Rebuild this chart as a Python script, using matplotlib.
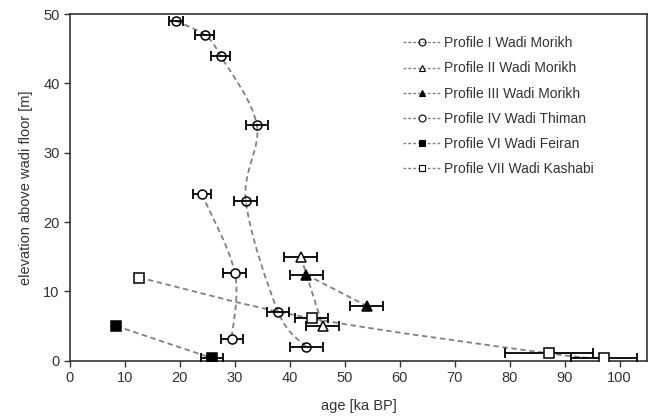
import matplotlib
matplotlib.use("Agg")
import matplotlib.pyplot as plt
from matplotlib.path import Path
from matplotlib.patches import PathPatch
from matplotlib.lines import Line2D
import numpy as np

plt.rcParams["font.family"] = ["Liberation Sans", "DejaVu Sans"]
plt.rcParams["font.size"] = 9

# ages [ka BP], elevations [m], 1-sigma errors [ka]
p1_age = [19.3, 24.5, 27.4, 34.0, 32.0, 37.9, 43.0]
p1_elev = [49, 47, 44, 34, 23, 7, 2]
p1_err = [1.3, 1.7, 1.8, 2.0, 2.1, 2.0, 3.0]

p2_age = [42.0, 46.0]
p2_elev = [15, 5]
p2_err = [3.0, 3.0]

p3_age = [43.0, 54.0]
p3_elev = [12.4, 7.9]
p3_err = [3.0, 3.0]

p4_age = [24.0, 30.0, 29.4]
p4_elev = [24, 12.7, 3.1]
p4_err = [1.6, 2.1, 2.0]

p6_age = [8.4, 25.9]
p6_elev = [5, 0.35]
p6_err = [0.0, 2.0]

p7_age = [12.6, 44.0, 87.1, 97.1]
p7_elev = [12, 6.1, 1.06, 0.35]
p7_err = [0.6, 3.0, 8.0, 6.0]

labels = ["Profile I Wadi Morikh", "Profile II Wadi Morikh", "Profile III Wadi Morikh",
          "Profile IV Wadi Thiman", "Profile VI Wadi Feiran", "Profile VII Wadi Kashabi"]

LINE = "#808080"
TXT = "#333333"


def smooth_path(xs, ys):
    # excel-like smoothed connector: catmull-rom segments as cubic beziers
    p = np.column_stack([xs, ys]).astype(float)
    verts = [p[0]]
    codes = [Path.MOVETO]
    n = len(p)
    for i in range(n - 1):
        p0 = p[i - 1] if i > 0 else p[i]
        p3 = p[i + 2] if i + 2 < n else p[i + 1]
        c1 = p[i] + (p[i + 1] - p0) / 6.0
        c2 = p[i + 1] - (p3 - p[i]) / 6.0
        verts += [c1, c2, p[i + 1]]
        codes += [Path.CURVE4] * 3
    return Path(verts, codes)


fig = plt.figure(figsize=(6.51, 4.16), dpi=100)
ax = fig.add_axes([0.1075, 0.133, 0.8864, 0.833])

series = [
    (p1_age, p1_elev, p1_err, dict(marker="o", mfc="none", mec="black")),
    (p2_age, p2_elev, p2_err, dict(marker="^", mfc="white", mec="black")),
    (p3_age, p3_elev, p3_err, dict(marker="^", mfc="black", mec="black")),
    (p4_age, p4_elev, p4_err, dict(marker="o", mfc="white", mec="black")),
    (p6_age, p6_elev, p6_err, dict(marker="s", mfc="black", mec="black")),
    (p7_age, p7_elev, p7_err, dict(marker="s", mfc="white", mec="black")),
]

handles = []
for (x, y, e, st), lab in zip(series, labels):
    ax.add_patch(PathPatch(smooth_path(x, y), fill=False, edgecolor=LINE,
                           lw=1.3, ls=(0, (3, 2)), zorder=2))
    ax.errorbar(x, y, xerr=e, fmt="none", ecolor="black", elinewidth=1.3,
                capsize=3.5, capthick=1.3, zorder=3)
    ax.plot(x, y, ls="none", ms=6.5, mew=1.1, zorder=4 if st["mfc"] != "none" else 5, **st)
    handles.append(Line2D([], [], color=LINE, lw=1.0, ls=(0, (2, 1.5)), ms=5, mew=0.8, **st))

ax.set_xlim(0, 105)
ax.set_ylim(0, 50)
ax.set_xticks(np.arange(0, 101, 10))
ax.set_yticks(np.arange(0, 51, 10))
ax.tick_params(direction="out", length=4, width=1, colors=TXT, labelsize=10.5,
               top=False, right=False)
for s in ax.spines.values():
    s.set_color(TXT)
    s.set_linewidth(1.2)

ax.set_xlabel("age [ka BP]", fontsize=10.5, color=TXT, labelpad=10)
ax.set_ylabel("elevation above wadi floor [m]", fontsize=10.5, color=TXT, labelpad=7)

ax.legend(handles, labels, loc="upper left", bbox_to_anchor=(0.555, 0.972),
          frameon=False, numpoints=1, handlelength=2.75, handletextpad=0.2,
          labelspacing=0.8, fontsize=10, labelcolor=TXT)

fig.savefig("out.png", dpi=100)
